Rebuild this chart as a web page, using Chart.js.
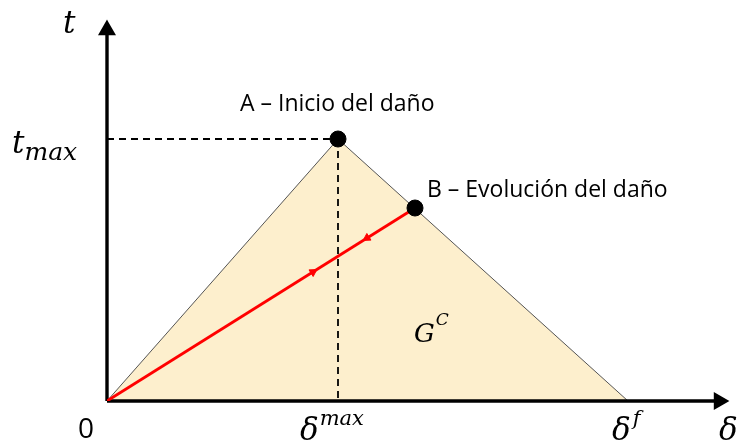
<!DOCTYPE html>
<html>
<head>
<meta charset="utf-8">
<script src="https://cdn.jsdelivr.net/npm/chart.js@4"></script>
<style>
  html, body { margin: 0; padding: 0; background: #fff; }
  #wrap { width: 739px; height: 448px; }
</style>
</head>
<body>
<div id="wrap"><canvas id="c"></canvas></div>
<script>
// data (arbitrary units: delta on x, traction t on y)
const deltaMax = 2.31;
const deltaF = 5.21;
const tMax = 2.62;
const pointB = { x: 3.08, y: 1.93 };
const xAxisEnd = 6.2;
const yAxisEnd = 3.79;

const envelope = [{ x: 0, y: 0 }, { x: deltaMax, y: tMax }, { x: deltaF, y: 0 }];
const unloadPath = [{ x: 0, y: 0 }, pointB];
const arrowMarks = [{ x: 2.06, y: 1.29 }, { x: 2.60, y: 1.63 }];
const arrowRot = [58, 238];

const labels = [
  { text: "A – Inicio del daño", x: deltaMax, y: tMax, dx: -98, dy: -35, font: "23px 'Open Sans'", align: "left" },
  { text: "B – Evolución del daño", x: pointB.x, y: pointB.y, dx: 12, dy: -18, font: "23px 'Open Sans'", align: "left" },
  { text: "0", x: 0, y: 0, dx: -21, dy: 29, font: "28px 'Open Sans'", align: "center" }
];

const mathLabel = {
  id: "mathLabel",
  afterDatasetsDraw(chart) {
    const { ctx, scales: { x, y } } = chart;
    ctx.save();
    ctx.fillStyle = "#000";
    ctx.textBaseline = "middle";
    labels.forEach((l) => {
      ctx.font = l.font;
      ctx.textAlign = l.align;
      ctx.fillText(l.text, x.getPixelForValue(l.x) + l.dx, y.getPixelForValue(l.y) + l.dy);
    });
    ctx.textAlign = "left";
    const it = "italic 31px 'DejaVu Serif'";
    const sup = "italic 21px 'DejaVu Serif'";
    const put = (t, f, px, py) => { ctx.font = f; ctx.fillText(t, px, py); return ctx.measureText(t).width; };
    // t on the y axis
    put("t", it, x.getPixelForValue(0) - 44, y.getPixelForValue(yAxisEnd) + 3);
    // t_max
    let px = 12, py = y.getPixelForValue(tMax) + 6;
    px += put("t", it, px, py);
    put("max", "italic 25px 'DejaVu Serif'", px, py + 8);
    // delta^max
    px = x.getPixelForValue(deltaMax) - 38; py = y.getPixelForValue(0) + 31;
    px += put("δ", it, px, py);
    put("max", sup, px + 1, py - 12);
    // delta^f
    px = x.getPixelForValue(deltaF) - 16;
    px += put("δ", it, px, py);
    put("f", sup, px + 2, py - 12);
    // delta on x axis
    put("δ", it, x.getPixelForValue(xAxisEnd) - 8, py);
    // G^C
    px = x.getPixelForValue(deltaMax + 0.76); py = y.getPixelForValue(0.66);
    px += put("G", "italic 26px 'DejaVu Serif'", px, py);
    put("C", "italic 17px 'DejaVu Serif'", px + 1, py - 14);
    ctx.restore();
  }
};

new Chart(document.getElementById("c"), {
  type: "scatter",
  data: {
    datasets: [
      {
        data: [{ x: 0, y: tMax }, { x: deltaMax, y: tMax }],
        showLine: true, borderColor: "#000", borderWidth: 1.8, borderDash: [7, 5],
        pointRadius: 0, order: 3
      },
      {
        data: [{ x: deltaMax, y: tMax }, { x: deltaMax, y: 0 }],
        showLine: true, borderColor: "#000", borderWidth: 1.8, borderDash: [7, 5],
        pointRadius: 0, order: 3
      },
      {
        data: envelope,
        showLine: true, fill: true, backgroundColor: "#fdefcd",
        borderColor: "#555", borderWidth: 1, pointRadius: 0, order: 5
      },
      {
        data: unloadPath,
        showLine: true, borderColor: "#ff0000", borderWidth: 2.8,
        pointRadius: 0, order: 2
      },
      {
        data: arrowMarks,
        pointStyle: "triangle", pointRadius: 4.5, pointRotation: arrowRot,
        backgroundColor: "#ff0000", borderColor: "#ff0000", borderWidth: 1, order: 1
      },
      {
        data: [{ x: 0, y: 0 }, { x: xAxisEnd - 0.08, y: 0 }],
        showLine: true, borderColor: "#000", borderWidth: 3.4, clip: false,
        pointRadius: [0, 7], pointStyle: "triangle", pointRotation: 90,
        backgroundColor: "#000", order: 4
      },
      {
        data: [{ x: 0, y: 0 }, { x: 0, y: yAxisEnd - 0.08 }],
        showLine: true, borderColor: "#000", borderWidth: 3.4, clip: false,
        pointRadius: [0, 7], pointStyle: "triangle", pointRotation: 0,
        backgroundColor: "#000", order: 4
      },
      {
        data: [{ x: deltaMax, y: tMax }, pointB],
        pointRadius: 8, backgroundColor: "#000", borderColor: "#000", order: 0
      }
    ]
  },
  options: {
    responsive: true,
    maintainAspectRatio: false,
    animation: false,
    layout: { padding: { left: 107, right: 12, top: 22, bottom: 47 } },
    plugins: { legend: { display: false }, tooltip: { enabled: false } },
    scales: {
      x: { type: "linear", min: 0, max: xAxisEnd, display: false },
      y: { type: "linear", min: 0, max: yAxisEnd, display: false }
    }
  },
  plugins: [mathLabel]
});
</script>
</body>
</html>
